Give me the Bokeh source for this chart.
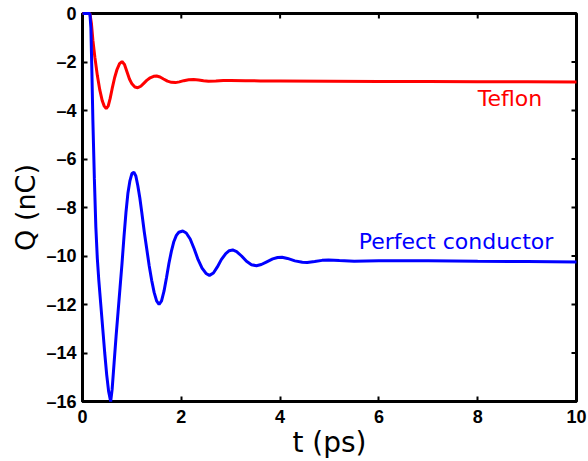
import math
from bokeh.plotting import figure
from bokeh.models import FixedTicker, Range1d, Label
from bokeh.embed import file_html
from bokeh.resources import INLINE

# Teflon curve (t in ps, Q in nC)
t_teflon = [0, 0.15, 0.18, 0.21, 0.25, 0.3, 0.35, 0.4, 0.44, 0.48, 0.52, 0.56, 0.6, 0.65, 0.7, 0.75, 0.8,
            0.85, 0.9, 0.95, 1.0, 1.06, 1.12, 1.18, 1.24, 1.3, 1.37, 1.44, 1.5, 1.57, 1.64, 1.72, 1.8,
            1.88, 1.96, 2.05, 2.15, 2.25, 2.35, 2.45, 2.55, 2.7, 2.85, 3.0, 3.3, 3.6, 4.0, 5.0, 6.0,
            7.0, 8.0, 9.0, 10.0]
q_teflon = [0, 0, -0.4, -1.1, -1.8, -2.55, -3.15, -3.6, -3.82, -3.92, -3.82, -3.5, -3.1, -2.65, -2.3, -2.07, -1.98,
            -2.1, -2.4, -2.7, -2.9, -3.03, -3.06, -3.0, -2.88, -2.76, -2.65, -2.59, -2.58, -2.62, -2.7, -2.79, -2.84,
            -2.85, -2.82, -2.77, -2.73, -2.72, -2.74, -2.77, -2.79, -2.78, -2.76, -2.76, -2.77, -2.78, -2.78, -2.79, -2.8,
            -2.8, -2.81, -2.81, -2.82]

# Perfect conductor curve
t_pc = [0, 0.15, 0.17, 0.19, 0.21, 0.24, 0.27, 0.3, 0.33, 0.37, 0.41, 0.45, 0.49, 0.53, 0.57,
        0.6, 0.64, 0.68, 0.72, 0.76, 0.8, 0.84, 0.88, 0.92, 0.96, 1.0, 1.04, 1.08, 1.12, 1.16,
        1.2, 1.25, 1.3, 1.35, 1.4, 1.45, 1.5, 1.55, 1.6, 1.65, 1.7, 1.75, 1.8, 1.85, 1.9,
        1.95, 2.03, 2.1, 2.18, 2.26, 2.34, 2.42, 2.5, 2.57, 2.65, 2.73, 2.81, 2.9, 2.97, 3.04,
        3.12, 3.22, 3.32, 3.42, 3.52, 3.62, 3.72, 3.85, 3.95, 4.04, 4.15, 4.3, 4.45, 4.55, 4.7,
        4.85, 4.98, 5.2, 5.5, 6.0, 7.0, 8.0, 9.0, 10.0]
q_pc = [0, 0, -0.6, -2.4, -4.4, -6.8, -8.8, -10.1, -11.0, -12.0, -13.0, -14.0, -14.9, -15.6, -16.0,
        -15.5, -14.4, -13.3, -12.3, -11.3, -10.3, -9.2, -8.2, -7.4, -6.9, -6.6, -6.55, -6.7, -7.1, -7.6,
        -8.2, -9.0, -9.7, -10.4, -11.0, -11.5, -11.85, -12.0, -11.85, -11.45, -10.9, -10.3, -9.8, -9.4, -9.15,
        -9.02, -8.97, -9.05, -9.3, -9.7, -10.15, -10.5, -10.72, -10.8, -10.7, -10.45, -10.15, -9.9, -9.78, -9.75,
        -9.82, -10.0, -10.22, -10.36, -10.4, -10.35, -10.25, -10.12, -10.06, -10.05, -10.1, -10.2, -10.26, -10.27, -10.23,
        -10.18, -10.16, -10.19, -10.22, -10.2, -10.2, -10.22, -10.23, -10.25]

x_ticks = [0, 2, 4, 6, 8, 10]
y_ticks = [0, -2, -4, -6, -8, -10, -12, -14, -16]
y_tick_labels = ["0", "–2", "–4", "–6", "–8", "–10", "–12", "–14", "–16"]
x_min, x_max = 0, 10
y_min, y_max = -16, 0

p = figure(width=588, height=461, x_range=Range1d(x_min, x_max), y_range=Range1d(y_min, y_max),
           output_backend="svg", toolbar_location=None,
           min_border_left=82, min_border_right=12, min_border_top=13, min_border_bottom=59,
           x_axis_label="t (ps)", y_axis_label="Q (nC)")
p.grid.visible = False
p.outline_line_color = "black"
p.outline_line_width = 3
p.outline_line_alpha = 1.0

# inward ticks on the top and right edges of the box
p.scatter(x_ticks, [y_max] * len(x_ticks), marker="dash", size=10, angle=math.pi / 2,
          line_color="black", line_width=2)
p.scatter([x_max] * len(y_ticks), y_ticks, marker="dash", size=10,
          line_color="black", line_width=2)

p.line(t_teflon, q_teflon, line_color="#ff0000", line_width=3, level="overlay")
p.line(t_pc, q_pc, line_color="#0000ff", line_width=3, level="overlay")

for ax in (p.xaxis[0], p.yaxis[0]):
    ax.axis_line_width = 3
    ax.major_tick_in = 5
    ax.major_tick_out = 0
    ax.major_tick_line_width = 2
    ax.minor_tick_line_color = None
    ax.major_label_text_font = "Liberation Sans"
    ax.major_label_text_font_style = "bold"
    ax.major_label_text_font_size = "18px"
    ax.major_label_text_color = "black"
    ax.axis_label_text_font = "DejaVu Sans"
    ax.axis_label_text_font_style = "normal"
    ax.axis_label_text_color = "black"

p.xaxis[0].axis_label_text_font_size = "28px"
p.yaxis[0].axis_label_text_font_size = "27px"
p.xaxis[0].ticker = FixedTicker(ticks=x_ticks)
p.yaxis[0].ticker = FixedTicker(ticks=y_ticks)
p.yaxis[0].major_label_overrides = {k: v for k, v in zip(y_ticks, y_tick_labels)}
p.xaxis[0].major_label_standoff = 8
p.yaxis[0].major_label_standoff = 6
p.xaxis[0].axis_label_standoff = 0
p.yaxis[0].axis_label_standoff = 2

p.add_layout(Label(x=8.0, y=-4.03, text="Teflon", text_color="#ff0000",
                   text_font="DejaVu Sans", text_font_size="22px"))
p.add_layout(Label(x=5.59, y=-9.9, text="Perfect conductor", text_color="#0000ff",
                   text_font="DejaVu Sans", text_font_size="22px"))

open("out.html", "w").write(file_html(p, INLINE))
